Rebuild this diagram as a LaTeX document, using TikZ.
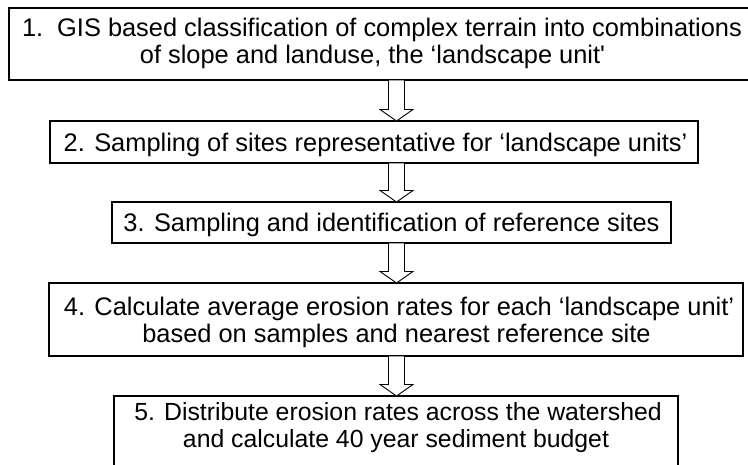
\documentclass[tikz,border=0pt]{standalone}
\usepackage{fontspec}
\newfontfamily\lfont{Liberation Sans}
\usetikzlibrary{calc}
\tikzset{
  box/.style={draw=black, line width=1.1pt, rectangle, inner sep=0pt, outer sep=0pt},
  txt/.style={inner sep=0pt, outer sep=0pt, anchor=base, font=\lfont\fontsize{25.4}{28}\selectfont},
  txtb/.style={txt, font=\lfont\fontsize{24.8}{28}\selectfont},
  harrow/.style={draw=black, fill=white, line width=0.9pt, line join=miter}
}
\newcommand\hollowarrow[3]{%
  \path (#1.south -| ax) coordinate (s#3) (#2.north -| ax) coordinate (e#3);
  \draw[harrow] ($(s#3)+(-8,0)$) -- ($(e#3)+(-8,-11.5)$) -- ($(e#3)+(-16.5,-11.5)$) -- (e#3)
    -- ($(e#3)+(16.5,-11.5)$) -- ($(e#3)+(8,-11.5)$) -- ($(s#3)+(8,0)$) -- cycle;
}
\begin{document}
\begin{tikzpicture}[x=1pt,y=-1pt]
\clip (0,0) rectangle (748,464);
\fill[white] (0,0) rectangle (748,464);
\coordinate (ax) at (396.5,0);
% boxes
\node[box, minimum width=751pt, minimum height=72pt] (b1) at (384.5,44) {};
\node[box, minimum width=648pt, minimum height=42pt] (b2) at (374,142) {};
\node[box, minimum width=559pt, minimum height=41pt] (b3) at (391.5,222.5) {};
\node[box, minimum width=694pt, minimum height=73pt] (b4) at (396,319.5) {};
\node[box, minimum width=564pt, minimum height=74pt] (b5) at (396,433) {};
% texts
\node[txt, anchor=base west] (t1a) at (22,36) {1.\hspace{14pt}GIS based classification of complex terrain into combinations};
\node[txt] (t1b) at (372.5,63) {of slope and landuse, the ‘landscape unit'};
\node[txt] (t2) at (375.5,151) {2. Sampling of sites representative for ‘landscape units’};
\node[txt] (t3) at (391.5,231) {3. Sampling and identification of reference sites};
\node[txt] (t4a) at (399,315) {4. Calculate average erosion rates for each ‘landscape unit’};
\node[txt] (t4b) at (396.5,342) {based on samples and nearest reference site};
\node[txtb] (t5a) at (398,420) {5. Distribute erosion rates across the watershed};
\node[txtb] (t5b) at (396,447) {and calculate 40 year sediment budget};
% arrows
\hollowarrow{b1}{b2}{1}
\hollowarrow{b2}{b3}{2}
\hollowarrow{b3}{b4}{3}
\hollowarrow{b4}{b5}{4}
\end{tikzpicture}
\end{document}
